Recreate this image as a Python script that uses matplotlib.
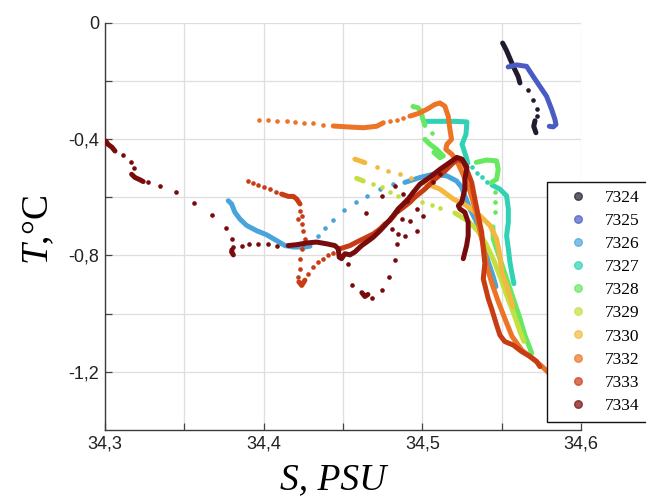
import matplotlib.pyplot as plt
from matplotlib.lines import Line2D

plt.rcParams['mathtext.fontset'] = 'custom'
plt.rcParams['mathtext.it'] = 'Liberation Serif:italic'
plt.rcParams['mathtext.rm'] = 'Liberation Serif'

stations = ['7324', '7325', '7326', '7327', '7328', '7329', '7330', '7332', '7333', '7334']
colors = ['#221a30', '#4a5cc4', '#4aa4dc', '#30d2b4', '#66e860',
          '#c4e040', '#f4b840', '#ec7424', '#c83c14', '#780c0c']

# (S, T) profiles: tr* = densely sampled pieces, dt* = sparse single readings
tr7324 = [[(34.5506, -0.070), (34.5530, -0.095), (34.5573, -0.150), (34.5604, -0.185), (34.5615, -0.207)],
          [(34.5710, -0.337), (34.5702, -0.356), (34.5716, -0.378)]]
dt7324 = [(34.5667, -0.230), (34.5699, -0.264), (34.5720, -0.298), (34.5724, -0.321)]

tr7325 = [[(34.5541, -0.152), (34.5594, -0.145), (34.5657, -0.150), (34.5699, -0.185), (34.5741, -0.219),
           (34.5783, -0.253), (34.5815, -0.298), (34.5836, -0.333), (34.5842, -0.350), (34.5825, -0.358),
           (34.5800, -0.356)]]
dt7325 = []

tr7326 = [[(34.3777, -0.612), (34.3798, -0.623), (34.3819, -0.652), (34.3851, -0.675), (34.3893, -0.697),
           (34.3956, -0.715), (34.4019, -0.729), (34.4082, -0.749), (34.4134, -0.766), (34.4187, -0.771),
           (34.4260, -0.771), (34.4292, -0.768)],
          [(34.4890, -0.549), (34.4985, -0.532), (34.5067, -0.521), (34.5153, -0.526), (34.5216, -0.544),
           (34.5248, -0.566), (34.5268, -0.595), (34.5300, -0.640), (34.5338, -0.681), (34.5363, -0.719),
           (34.5388, -0.760), (34.5413, -0.818), (34.5445, -0.870), (34.5464, -0.907)]]
dt7326 = [(34.4344, -0.734), (34.4386, -0.706), (34.4439, -0.677), (34.4506, -0.645), (34.4582, -0.617),
          (34.4653, -0.595), (34.4733, -0.572), (34.4817, -0.555)]

tr7327 = [[(34.5016, -0.339), (34.5111, -0.339), (34.5205, -0.339), (34.5281, -0.341), (34.5275, -0.384),
           (34.5250, -0.418), (34.5275, -0.459), (34.5287, -0.483)],
          [(34.5439, -0.558), (34.5489, -0.572), (34.5531, -0.595), (34.5542, -0.640), (34.5542, -0.686),
           (34.5531, -0.732), (34.5542, -0.777), (34.5552, -0.823), (34.5565, -0.863), (34.5577, -0.897)]]
dt7327 = [(34.5311, -0.497), (34.5342, -0.515), (34.5374, -0.531), (34.5405, -0.549)]

tr7328 = [[(34.4941, -0.288), (34.4972, -0.292), (34.4991, -0.305), (34.5004, -0.333), (34.5016, -0.353)],
          [(34.5016, -0.401), (34.5048, -0.418), (34.5090, -0.435), (34.5132, -0.458), (34.5111, -0.464),
           (34.5073, -0.446)],
          [(34.5340, -0.480), (34.5405, -0.472), (34.5468, -0.475), (34.5478, -0.504), (34.5468, -0.538),
           (34.5436, -0.549)],
          [(34.5445, -0.702), (34.5447, -0.743), (34.5489, -0.811), (34.5531, -0.880), (34.5573, -0.948),
           (34.5615, -1.016), (34.5646, -1.074), (34.5678, -1.119), (34.5689, -1.136)]]
dt7328 = [(34.5058, -0.378), (34.5220, -0.472), (34.5457, -0.583), (34.5457, -0.617), (34.5457, -0.652)]

tr7329 = [[(34.4586, -0.535), (34.4607, -0.539), (34.4628, -0.544)],
          [(34.5205, -0.654), (34.5287, -0.681), (34.5350, -0.716), (34.5401, -0.760), (34.5451, -0.818),
           (34.5495, -0.880), (34.5539, -0.948), (34.5583, -1.010), (34.5615, -1.061), (34.5640, -1.095)]]
dt7329 = [(34.4691, -0.555), (34.4744, -0.566), (34.4796, -0.583), (34.4846, -0.595), (34.4922, -0.606),
          (34.4997, -0.616), (34.5060, -0.628), (34.5111, -0.638)]

tr7330 = [[(34.4575, -0.469), (34.4607, -0.475), (34.4638, -0.481)],
          [(34.5006, -0.549), (34.5111, -0.572), (34.5195, -0.606), (34.5279, -0.629), (34.5363, -0.663),
           (34.5426, -0.697), (34.5468, -0.743), (34.5489, -0.800), (34.5500, -0.857), (34.5531, -0.903),
           (34.5552, -0.941), (34.5571, -0.975)]]
dt7330 = [(34.4712, -0.497), (34.4785, -0.509), (34.4859, -0.521), (34.4928, -0.533)]

tr7332 = [[(34.4439, -0.355), (34.4524, -0.358), (34.4628, -0.361), (34.4712, -0.356), (34.4754, -0.344)],
          [(34.4922, -0.321), (34.4975, -0.312), (34.5028, -0.298), (34.5079, -0.281), (34.5111, -0.276),
           (34.5142, -0.287), (34.5163, -0.321), (34.5174, -0.367), (34.5184, -0.401), (34.5155, -0.418),
           (34.5148, -0.435), (34.5186, -0.452), (34.5218, -0.476), (34.5256, -0.521), (34.5300, -0.579),
           (34.5338, -0.648), (34.5363, -0.716), (34.5388, -0.777), (34.5407, -0.839), (34.5439, -0.897),
           (34.5476, -0.955), (34.5520, -1.017), (34.5565, -1.078), (34.5628, -1.126), (34.5691, -1.153),
           (34.5754, -1.181), (34.5798, -1.205)]]
dt7332 = [(34.3970, -0.334), (34.4027, -0.336), (34.4084, -0.338), (34.4145, -0.338), (34.4197, -0.340),
          (34.4254, -0.343), (34.4313, -0.346), (34.4376, -0.350), (34.4796, -0.339), (34.4839, -0.333),
          (34.4880, -0.327)]

tr7333 = [[(34.4113, -0.589), (34.4155, -0.597), (34.4187, -0.597), (34.4208, -0.606), (34.4229, -0.623)],
          [(34.4222, -0.891), (34.4240, -0.903), (34.4260, -0.885)],
          [(34.4481, -0.777), (34.4544, -0.766), (34.4586, -0.754), (34.4628, -0.743), (34.4691, -0.726),
           (34.4733, -0.709), (34.4764, -0.692), (34.4796, -0.680), (34.4838, -0.652), (34.4880, -0.635),
           (34.4922, -0.617), (34.4953, -0.600), (34.5016, -0.572), (34.5079, -0.538), (34.5142, -0.510),
           (34.5186, -0.486), (34.5224, -0.469), (34.5256, -0.479), (34.5279, -0.504), (34.5311, -0.549),
           (34.5331, -0.606), (34.5352, -0.663), (34.5374, -0.720), (34.5384, -0.777), (34.5394, -0.828),
           (34.5384, -0.880), (34.5415, -0.948), (34.5436, -0.982), (34.5468, -1.039), (34.5489, -1.074),
           (34.5520, -1.096), (34.5573, -1.108), (34.5625, -1.130), (34.5678, -1.147), (34.5720, -1.164),
           (34.5741, -1.182)]]
dt7333 = [(34.3903, -0.544), (34.3933, -0.550), (34.3964, -0.557), (34.4002, -0.563), (34.4040, -0.572),
          (34.4077, -0.582), (34.4229, -0.646), (34.4240, -0.663), (34.4219, -0.675), (34.4240, -0.692),
          (34.4251, -0.715), (34.4260, -0.743), (34.4251, -0.760), (34.4240, -0.777), (34.4229, -0.811),
          (34.4229, -0.845), (34.4219, -0.874), (34.4281, -0.863), (34.4313, -0.840), (34.4344, -0.823),
          (34.4376, -0.811), (34.4407, -0.800), (34.4439, -0.791)]

tr7334 = [[(34.3006, -0.407), (34.3019, -0.418), (34.3044, -0.428), (34.3063, -0.441)],
          [(34.3168, -0.521), (34.3189, -0.532), (34.3221, -0.540), (34.3241, -0.546)],
          [(34.3800, -0.781), (34.3798, -0.788), (34.3809, -0.798)],
          [(34.4619, -0.928), (34.4638, -0.941), (34.4657, -0.934)],
          [(34.4155, -0.766), (34.4208, -0.763), (34.4271, -0.757), (34.4334, -0.754), (34.4397, -0.760),
           (34.4449, -0.766), (34.4470, -0.777), (34.4476, -0.806), (34.4491, -0.811), (34.4512, -0.794),
           (34.4544, -0.798), (34.4575, -0.788), (34.4596, -0.777), (34.4618, -0.766), (34.4649, -0.754),
           (34.4691, -0.737), (34.4733, -0.715), (34.4764, -0.697), (34.4796, -0.677), (34.4817, -0.663),
           (34.4848, -0.640), (34.4880, -0.623), (34.4911, -0.606), (34.4943, -0.583), (34.4985, -0.555),
           (34.5048, -0.531), (34.5111, -0.504), (34.5174, -0.480), (34.5218, -0.463), (34.5250, -0.469),
           (34.5281, -0.497), (34.5268, -0.538), (34.5268, -0.572), (34.5248, -0.617), (34.5227, -0.629),
           (34.5237, -0.640), (34.5268, -0.652), (34.5289, -0.686), (34.5289, -0.732), (34.5279, -0.766),
           (34.5258, -0.811)]]
dt7334 = [(34.3112, -0.455), (34.3164, -0.479), (34.3185, -0.501), (34.3273, -0.547), (34.3347, -0.561),
          (34.3447, -0.583), (34.3561, -0.619), (34.3676, -0.661), (34.3761, -0.705), (34.3798, -0.743),
          (34.3809, -0.771), (34.3861, -0.768), (34.3907, -0.762), (34.3962, -0.760), (34.4025, -0.762),
          (34.4082, -0.766), (34.4648, -0.655), (34.4743, -0.595), (34.4827, -0.561), (34.4838, -0.646),
          (34.4806, -0.709), (34.4848, -0.726), (34.4890, -0.734), (34.4838, -0.760), (34.4964, -0.715),
          (34.4922, -0.680), (34.4870, -0.675), (34.4827, -0.817), (34.4791, -0.874), (34.4743, -0.920),
          (34.4680, -0.946), (34.4555, -0.903), (34.4533, -0.828), (34.4880, -0.589), (34.4901, -0.612),
          (34.4964, -0.640), (34.5006, -0.663), (34.5111, -0.521), (34.5067, -0.548)]

tracks = [tr7324, tr7325, tr7326, tr7327, tr7328, tr7329, tr7330, tr7332, tr7333, tr7334]
dots = [dt7324, dt7325, dt7326, dt7327, dt7328, dt7329, dt7330, dt7332, dt7333, dt7334]

fig = plt.figure(figsize=(6.46, 4.98), dpi=100)
ax = fig.add_axes([0.1625, 0.1365, 0.7369, 0.8179])

for tr, dt, c in zip(tracks, dots, colors):
    for seg in tr:
        ax.plot([p[0] for p in seg], [p[1] for p in seg], color=c, lw=3.6,
                solid_capstyle='round', solid_joinstyle='round', zorder=3)
    if dt:
        ax.scatter([p[0] for p in dt], [p[1] for p in dt], s=11, color=c,
                   linewidths=0, zorder=3)

ax.set_xlim(34.3, 34.6)
ax.set_ylim(-1.4, 0)
ax.set_xticks([34.3, 34.4, 34.5, 34.6], ['34,3', '34,4', '34,5', '34,6'])
ax.set_xticks([34.35, 34.45, 34.55], minor=True)
ax.set_yticks([0, -0.4, -0.8, -1.2], ['0', '-0,4', '-0,8', '-1,2'])
ax.set_yticks([-0.2, -0.6, -1.0], minor=True)
ax.grid(True, which='both', color='#dedede', lw=0.9, zorder=0)
ax.set_axisbelow(True)
ax.tick_params(which='both', direction='in', length=5, width=0.9, color='#444444',
               labelsize=13, labelcolor='#222222', pad=4)
for lab in ax.get_xticklabels() + ax.get_yticklabels():
    lab.set_fontfamily('Liberation Sans')
for side in ['top', 'right']:
    ax.spines[side].set_visible(False)
for side in ['left', 'bottom']:
    ax.spines[side].set_color('#3c3c3c')
    ax.spines[side].set_linewidth(1.0)

ax.set_xlabel('S, PSU', fontfamily='Liberation Serif', fontstyle='italic', fontsize=27)
ax.xaxis.set_label_coords(0.479, -0.08)
ax.set_ylabel('$T$,°C', fontfamily='Liberation Serif', fontsize=27)
ax.yaxis.set_label_coords(-0.103, 0.49)

handles = [Line2D([], [], marker='o', ls='none', ms=5.5, color=c, alpha=0.7) for c in colors]
leg = fig.legend(handles, stations, loc='upper left', bbox_to_anchor=(0.847, 0.6345),
                 frameon=True, fancybox=False, edgecolor='#111111', framealpha=1,
                 prop={'family': 'Liberation Serif', 'size': 12.5},
                 handlelength=2.6, handletextpad=0.3, labelspacing=0.4,
                 borderpad=0.45, borderaxespad=0)
leg.get_frame().set_linewidth(1.0)

fig.savefig('out.png', dpi=100)
